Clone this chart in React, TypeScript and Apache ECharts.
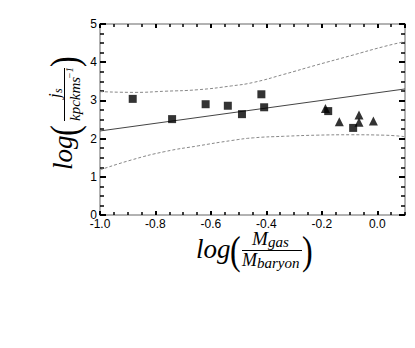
import React, { useEffect, useRef } from "react";
import * as echarts from "echarts";

// ---- data ----
const squaresX = [-0.882, -0.74, -0.619, -0.539, -0.488, -0.418, -0.408, -0.177, -0.087];
const squaresY = [3.04, 2.51, 2.9, 2.86, 2.64, 3.16, 2.82, 2.72, 2.28];
const trianglesX = [-0.187, -0.137, -0.066, -0.066, -0.014];
const trianglesY = [2.79, 2.44, 2.62, 2.43, 2.46];
const fitX = [-1.0, 0.1];
const fitY = [2.2, 3.3];
const upperX = [-1.0, -0.875, -0.766, -0.646, -0.525, -0.447, -0.338, -0.217, -0.096, 0.024, 0.1];
const upperY = [3.23, 3.21, 3.24, 3.28, 3.38, 3.47, 3.68, 3.93, 4.17, 4.41, 4.54];
const lowerX = [-1.0, -0.887, -0.766, -0.646, -0.525, -0.447, -0.338, -0.217, -0.096, 0.024, 0.1];
const lowerY = [1.18, 1.44, 1.66, 1.81, 1.95, 2.02, 2.06, 2.09, 2.1, 2.09, 2.05];

const X_MIN = -1.0;
const X_MAX = 0.1;
const Y_MIN = 0;
const Y_MAX = 5;

const zip = (xs: number[], ys: number[]) => xs.map((x, i) => [x, ys[i]]);

const SERIF = "Liberation Serif";
const SANS = "Liberation Sans";

function t(text: string, x: number, y: number, size: number, italic = true, extra: any = {}) {
  return {
    type: "text",
    x,
    y,
    ...extra,
    style: {
      text,
      fontSize: size,
      fontFamily: SERIF,
      fontStyle: italic ? "italic" : "normal",
      fill: "#000",
      align: "left",
      verticalAlign: "middle",
      textAlign: "left",
      textVerticalAlign: "middle",
    },
  };
}

function ln(x1: number, x2: number, y: number) {
  return {
    type: "line",
    shape: { x1, y1: y, x2, y2: y },
    style: { stroke: "#000", lineWidth: 1 },
  };
}

export default function App() {
  const ref = useRef<HTMLDivElement>(null);
  useEffect(() => {
    if (!ref.current) return;
    document.body.style.margin = "0";
    const chart = echarts.init(ref.current, undefined, { renderer: "svg" });

    const axisLineStyle = { color: "#999", width: 1.5 };
    const majorTick = (len: number) => ({
      show: true,
      inside: true,
      length: len,
      lineStyle: { color: "#000", width: 2 },
    });
    const minorTick = (len: number) => ({
      show: true,
      inside: true,
      length: len,
      lineStyle: { color: "#000", width: 1.5 },
    });
    const labelStyle = { color: "#000", fontSize: 12, fontFamily: SANS };

    const xBase = (pos: string, interval: number, extra: any) => ({
      type: "value",
      position: pos,
      min: X_MIN,
      max: X_MAX,
      interval,
      splitLine: { show: false },
      ...extra,
    });
    const yBase = (pos: string, interval: number, extra: any) => ({
      type: "value",
      position: pos,
      min: Y_MIN,
      max: Y_MAX,
      interval,
      splitLine: { show: false },
      ...extra,
    });

    const option: any = {
      animation: false,
      backgroundColor: "#fff",
      grid: { left: 100, right: 10, top: 24, bottom: 133, containLabel: false },
      xAxis: [
        xBase("bottom", 0.2, {
          axisLine: { show: true, onZero: false, lineStyle: axisLineStyle },
          axisTick: majorTick(4),
          axisLabel: {
            ...labelStyle,
            margin: 3,
            showMaxLabel: false,
            formatter: (v: number) => (Math.abs(v) < 1e-9 ? "0.0" : v.toFixed(1)),
          },
        }),
        xBase("bottom", 0.05, {
          axisLine: { show: false, onZero: false },
          axisTick: minorTick(3),
          axisLabel: { show: false },
        }),
        xBase("top", 0.2, {
          axisLine: { show: true, onZero: false, lineStyle: axisLineStyle },
          axisTick: majorTick(4),
          axisLabel: { show: false },
        }),
        xBase("top", 0.05, {
          axisLine: { show: false, onZero: false },
          axisTick: minorTick(3),
          axisLabel: { show: false },
        }),
      ],
      yAxis: [
        yBase("left", 1, {
          axisLine: { show: true, onZero: false, lineStyle: axisLineStyle },
          axisTick: majorTick(6),
          axisLabel: { ...labelStyle, margin: 3 },
        }),
        yBase("left", 0.25, {
          axisLine: { show: false, onZero: false },
          axisTick: minorTick(4),
          axisLabel: { show: false },
        }),
        yBase("right", 1, {
          axisLine: { show: true, onZero: false, lineStyle: axisLineStyle },
          axisTick: majorTick(6),
          axisLabel: { show: false },
        }),
        yBase("right", 0.25, {
          axisLine: { show: false, onZero: false },
          axisTick: minorTick(4),
          axisLabel: { show: false },
        }),
      ],
      series: [
        {
          type: "line",
          data: zip(upperX, upperY),
          smooth: true,
          symbol: "none",
          lineStyle: { color: "#888", width: 1, type: [3, 2] },
          z: 2,
        },
        {
          type: "line",
          data: zip(lowerX, lowerY),
          smooth: true,
          symbol: "none",
          lineStyle: { color: "#888", width: 1, type: [3, 2] },
          z: 2,
        },
        {
          type: "line",
          data: zip(fitX, fitY),
          symbol: "none",
          lineStyle: { color: "#444", width: 1 },
          z: 3,
        },
        {
          type: "scatter",
          data: zip(squaresX, squaresY),
          symbol: "rect",
          symbolSize: 8,
          itemStyle: { color: "#000" },
          z: 4,
        },
        {
          type: "scatter",
          data: zip(trianglesX, trianglesY),
          symbol: "triangle",
          symbolSize: 9,
          itemStyle: { color: "#000" },
          z: 4,
        },
      ],
      graphic: [
        {
          type: "group",
          x: 196,
          y: 249,
          children: [
            t("log", 0, 0, 27),
            t("(", 34, 2, 32, false, { scaleY: 1.25 }),
            t("M", 56, -11, 19),
            t("gas", 72, -7, 15),
            ln(46, 106, 1.5),
            t("M", 46, 11, 18),
            t("baryon", 61, 14, 15),
            t(")", 106, 2, 32, false, { scaleY: 1.25 }),
          ],
        },
        {
          type: "group",
          x: 63,
          y: 170,
          rotation: Math.PI / 2,
          children: [
            t("log", 0, 0, 27),
            t("(", 34, 2, 32, false, { scaleY: 1.25 }),
            t("j", 72, -9, 17),
            t("s", 77, -5, 12),
            ln(49, 102, 1.5),
            t("kpckms", 49, 12, 15),
            t("\u22121", 91, 6, 10),
            t(")", 103, 2, 32, false, { scaleY: 1.25 }),
          ],
        },
      ],
    };
    chart.setOption(option);
    return () => chart.dispose();
  }, []);
  return <div ref={ref} style={{ width: 415, height: 348 }} />;
}
